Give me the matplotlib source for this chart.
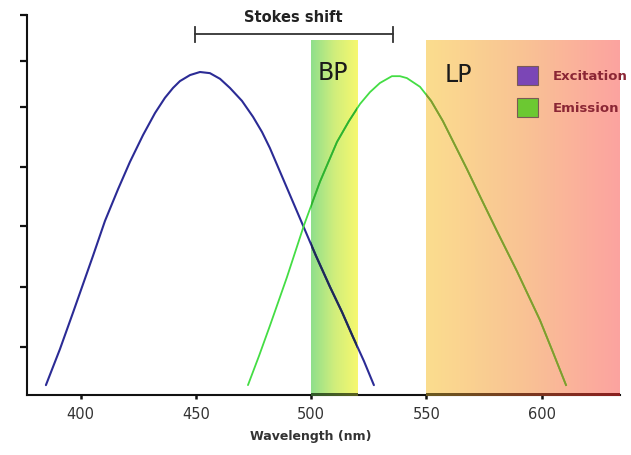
import numpy as np
import matplotlib
matplotlib.use('Agg')
import matplotlib.pyplot as plt
from matplotlib.colors import LinearSegmentedColormap
from matplotlib.patches import Rectangle

# ---- data ----
exc_wl = [385.0, 391.1, 396.7, 405.4, 410.6, 416.3, 421.4, 427.1, 432.3, 436.6,
          440.1, 443.1, 447.5, 451.8, 456.1, 460.5, 464.8, 470.0, 474.8, 478.7,
          482.1, 489.5, 496.4, 502.1, 508.2, 513.4, 518.1, 522.9, 527.2]
exc_int = [0.026, 0.121, 0.216, 0.366, 0.458, 0.542, 0.613, 0.684, 0.742, 0.782,
           0.808, 0.826, 0.842, 0.850, 0.847, 0.832, 0.808, 0.774, 0.732, 0.692,
           0.650, 0.545, 0.447, 0.366, 0.284, 0.218, 0.153, 0.089, 0.026]

em_wl = [472.6, 477.4, 482.1, 489.5, 496.9, 503.8, 511.2, 516.4, 521.2, 525.5,
         529.8, 535.0, 538.5, 541.5, 547.2, 552.0, 557.1, 562.3, 567.5, 574.0,
         580.5, 589.2, 599.2, 604.8, 610.5]
em_int = [0.026, 0.103, 0.182, 0.310, 0.447, 0.561, 0.666, 0.721, 0.766, 0.797,
          0.821, 0.839, 0.839, 0.834, 0.811, 0.774, 0.721, 0.658, 0.595, 0.513,
          0.432, 0.326, 0.197, 0.113, 0.026]

bp_range = [500, 520]
lp_range = [550, 633.9]
band_top = 0.932

x_ticks = [400, 450, 500, 550, 600]
y_ticks = [0.126, 0.284, 0.445, 0.600, 0.758, 0.879, 1.0]

legend_labels = ['Excitation', 'Emission']
legend_colors = ['#7b46b6', '#6cc832']

W, H = 631, 456
fig = plt.figure(figsize=(W / 100, H / 100), dpi=100)
ax = fig.add_axes([27 / W, 1 - 396 / H, (620 - 27) / W, (396 - 16) / H])


def band(x0, x1, colors, dark):
    cmap = LinearSegmentedColormap.from_list('b', colors)
    grad = np.linspace(0, 1, 256).reshape(1, -1)
    ax.imshow(grad, cmap=cmap, extent=[x0, x1, 0, band_top], aspect='auto',
              zorder=0.5, interpolation='bilinear')
    # tinted axis line under the band
    dcmap = LinearSegmentedColormap.from_list('d', dark)
    im = ax.imshow(grad, cmap=dcmap, extent=[x0, x1, -0.003, 0.003], aspect='auto',
                   zorder=3, interpolation='bilinear')
    im.set_clip_on(False)
    return Rectangle((x0, 0), x1 - x0, band_top, transform=ax.transData)


bp_clip = band(bp_range[0], bp_range[1], ['#8fdf8c', '#d0ee7c', '#f7f86e'],
               ['#2f5a2a', '#5a6020'])
lp_clip = band(lp_range[0], lp_range[1], ['#fbdd8e', '#f9c394', '#fca3a0'],
               ['#6a5a20', '#7a3a20', '#8a2020'])

# curves
ax.plot(exc_wl, exc_int, color='#2b2b95', lw=1.5, zorder=3, solid_capstyle='round')
ax.plot(em_wl, em_int, color='#44dd44', lw=1.3, zorder=3, solid_capstyle='round')
# darker look where curves pass through the filter bands
l1 = ax.plot(exc_wl, exc_int, color='#1e2a55', lw=1.5, zorder=3.1)[0]
l1.set_clip_path(bp_clip)
l2 = ax.plot(em_wl, em_int, color='#30b030', lw=1.3, zorder=3.1)[0]
l2.set_clip_path(bp_clip)
l3 = ax.plot(em_wl, em_int, color='#86982c', lw=1.3, zorder=3.1)[0]
l3.set_clip_path(lp_clip)

ax.set_xlim(376.8, 633.9)
ax.set_ylim(0, 1)

for s in ['top', 'right']:
    ax.spines[s].set_visible(False)
for s in ['left', 'bottom']:
    ax.spines[s].set_linewidth(1.5)
    ax.spines[s].set_color('#111111')

ax.set_xticks(x_ticks)
ax.set_yticks(y_ticks)
ax.set_yticklabels([])
ax.tick_params(axis='y', direction='out', length=5, width=1.6, color='#111111')
ax.tick_params(axis='x', direction='out', length=3, width=1.8, color='#111111',
               labelsize=10.5, labelcolor='#333333', pad=5)
ax.set_xlabel('Wavelength (nm)', fontsize=9, fontweight='bold', color='#333333', labelpad=6)
ax.xaxis.label.set_x((311 - 27) / (620 - 27))

# Stokes shift bar between the two peaks
x_exc_peak = exc_wl[int(np.argmax(exc_int))]
x_em_peak = em_wl[int(np.argmax(em_int))]
x0s, x1s = x_exc_peak - 2, x_em_peak + 0.5
ybar = 0.95
ax.plot([x0s, x1s], [ybar, ybar], color='#333333', lw=1.3, clip_on=False, zorder=4)
for xx in [x0s, x1s]:
    ax.plot([xx, xx], [0.929, 0.968], color='#333333', lw=1.3, clip_on=False, zorder=4)
ax.text((x0s + x1s) / 2 - 0.5, 0.997, 'Stokes shift', ha='center', va='center',
        fontsize=10.5, fontweight='bold', color='#222222', clip_on=False)

ax.text(509.6, 0.85, 'BP', ha='center', va='center', fontsize=17, color='#1a1a1a', zorder=4)
ax.text(564.0, 0.845, 'LP', ha='center', va='center', fontsize=17, color='#1a1a1a', zorder=4)

# legend
leg_y = [0.842, 0.757]
for lab, col, yy in zip(legend_labels, legend_colors, leg_y):
    ax.add_patch(Rectangle((589.2, yy - 0.025), 9.1, 0.05, facecolor=col,
                           edgecolor='#7a5a55', lw=0.8, zorder=4))
    ax.text(604.8, yy, lab, ha='left', va='center', fontsize=9.5, fontweight='bold',
            color='#8b2635', zorder=4, clip_on=False)

fig.savefig('out.png', dpi=100)
